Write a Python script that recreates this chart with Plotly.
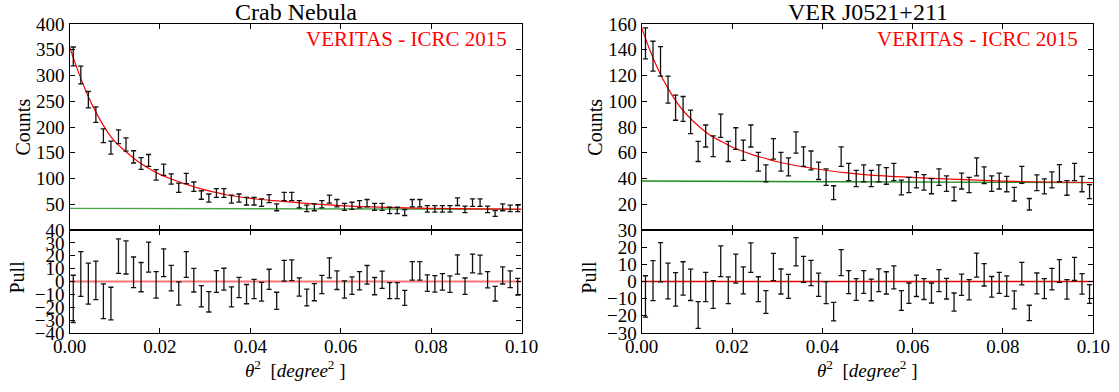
import numpy as np
import plotly.graph_objects as go

W, H = 1119, 392
FONT = "Liberation Serif, Times New Roman, serif"

# ---------------- data ----------------
N_BINS = 60
BIN_WIDTH = 0.1 / N_BINS
theta2 = (np.arange(N_BINS) + 0.5) * BIN_WIDTH  # bin centres

crab_counts = [337, 301, 253, 224, 183, 160, 181, 166, 142, 129,
               135, 107, 117, 99, 82, 100, 84, 68, 62, 72,
               72, 60, 62, 56, 56, 53, 61, 44, 65, 65,
               50, 42, 44, 50, 60, 52, 45, 47, 50, 52,
               45, 45, 38, 38, 34, 52, 52, 41, 41, 41,
               41, 55, 40, 53, 53, 40, 32, 44, 42, 42]
crab_pull = [-13.5, 5.8, -1.7, 0.9, -15.3, -17.1, 19.7, 18.7, 7.1, 3.4,
             18.9, -2.6, 14.6, 2.6, -9.3, 13.2, 1.0, -11.4, -15.8, 0.0,
             1.8, -11.9, -4.7, -9.8, -5.8, -8.0, 1.7, -15.0, 8.4, 8.7,
             -4.3, -12.4, -8.3, -2.3, 10.6, 1.0, -6.2, -3.2, 0.6, 5.2,
             -3.6, 1.3, -7.1, -7.1, -12.7, 8.3, 8.3, -1.3, -1.8, -0.3,
             -2.1, 13.2, -3.6, 14.0, 13.2, 1.3, -9.5, 4.7, 1.8, -4.1]
crab_fit_x = [0, 0.002, 0.004, 0.006, 0.008, 0.010, 0.0125, 0.015, 0.0175, 0.020,
              0.0225, 0.025, 0.0275, 0.030, 0.035, 0.040, 0.045, 0.050, 0.060,
              0.070, 0.080, 0.090, 0.100]
crab_fit_y = [356, 306, 262, 226, 196, 172, 152, 134, 120, 108,
              99, 91, 84, 78, 68, 61.5, 57, 53.5, 47.5,
              44, 42, 41, 40.5]
crab_bkg_x = [0.0, 0.1]
crab_bkg_y = [42.0, 40.2]

ver_counts = [145, 135, 131, 109, 95, 94, 84, 61, 73, 65,
              81, 61, 71, 62, 73, 53, 44, 63, 53, 49,
              68, 57, 54, 46, 41, 29, 57, 45, 40, 44,
              40, 44, 42, 45, 33, 35, 39, 37, 34, 41,
              36, 28, 38, 35, 49, 42.5, 36, 38, 35.7, 27.8,
              42.8, 20, 36.7, 33.9, 38.9, 44.1, 32.7, 45.1, 35.7, 29.8]
ver_pull = [-8.7, 0.5, 11.2, 0.3, -4.6, 1.8, -1.9, -19.5, -3.2, -7.6,
            11.8, -5.1, 7.5, 0.7, 13.9, -4.5, -11.9, 8.5, 0.0, -2.8,
            17.3, 7.1, 5.0, -1.9, -6.5, -17.6, 11.0, -0.4, -4.7, -0.3,
            -4.9, 0.7, -0.8, 2.4, -11.1, -6.8, -2.5, -4.4, -6.7, 0.5,
            -4.2, -12.0, -1.9, -4.8, 9.5, 3.9, -3.1, -0.8, -2.7, -10.7,
            4.6, -18.3, -1.1, -4.2, 1.4, 6.1, -4.6, 7.3, -1.4, -7.3]
ver_fit_x = [0, 0.002, 0.004, 0.006, 0.008, 0.010, 0.0125, 0.015, 0.0175, 0.020,
             0.0225, 0.025, 0.0275, 0.030, 0.035, 0.040, 0.045, 0.050, 0.060,
             0.070, 0.080, 0.090, 0.100]
ver_fit_y = [157, 138, 122, 109, 98, 89.5, 81, 74, 69, 64.5,
             61, 58, 55.5, 53, 49.5, 46.8, 44.5, 42.8, 40.8,
             39.3, 38.0, 37.3, 36.9]
ver_bkg_x = [0.0, 0.1]
ver_bkg_y = [38.0, 36.8]

x_ticks = [0.0, 0.02, 0.04, 0.06, 0.08, 0.10]
x_ticktext = ["0.00", "0.02", "0.04", "0.06", "0.08", "0.10"]
crab_yticks = [0, 50, 100, 150, 200, 250, 300, 350, 400]
ver_yticks = [0, 20, 40, 60, 80, 100, 120, 140, 160]
crab_pull_ticks = [-40, -30, -20, -10, 0, 10, 20, 30, 40]
ver_pull_ticks = [-30, -20, -10, 0, 10, 20, 30]

titles = ["Crab Nebula", "VER J0521+211"]
tag = "VERITAS - ICRC 2015"

# ---------------- geometry (pixels) ----------------
XL = (69.5, 521.5)
XR = (641.7, 1093.3)
Y_TOP, Y_MID, Y_BOT = 24, 230, 333


def dx(a, b):
    return [a / W, b / W]


def dy(top, bot):
    return [1 - bot / H, 1 - top / H]


def lab(v):
    if v < 0:
        return "\u2212" + str(-v)
    return str(v)


fig = go.Figure()

err_style = dict(type="data", visible=True, color="#111111", thickness=1.3, width=2.6)
nomark = dict(size=1, color="rgba(0,0,0,0)")

panels = [
    (crab_counts, crab_pull, crab_fit_x, crab_fit_y, crab_bkg_x, crab_bkg_y,
     "rgb(70,165,70)", "rgba(255,40,40,0.65)", 2.2),
    (ver_counts, ver_pull, ver_fit_x, ver_fit_y, ver_bkg_x, ver_bkg_y,
     "rgb(30,140,30)", "rgb(235,0,0)", 1.6),
]

for i, (cnt, pull, fx, fy, bx, by, gcol, pcol, pw) in enumerate(panels):
    xt = "x" + ("" if i == 0 else str(2 * i + 1))
    yt = "y" + ("" if i == 0 else str(2 * i + 1))
    xb = "x" + str(2 * i + 2)
    yb = "y" + str(2 * i + 2)
    cnt = np.array(cnt, dtype=float)
    err = np.sqrt(cnt)
    fig.add_trace(go.Scatter(x=bx, y=by, mode="lines", line=dict(color=gcol, width=1.4),
                             xaxis=xt, yaxis=yt, showlegend=False))
    fig.add_trace(go.Scatter(x=fx, y=fy, mode="lines", line=dict(color="red", width=1.2, shape="spline"),
                             xaxis=xt, yaxis=yt, showlegend=False))
    fig.add_trace(go.Scatter(x=theta2, y=cnt, mode="markers", marker=nomark,
                             error_y=dict(array=err, **err_style),
                             xaxis=xt, yaxis=yt, showlegend=False, cliponaxis=False))
    fig.add_trace(go.Scatter(x=[0, 0.1], y=[0, 0], mode="lines", line=dict(color=pcol, width=pw),
                             xaxis=xb, yaxis=yb, showlegend=False))
    fig.add_trace(go.Scatter(x=theta2, y=pull, mode="markers", marker=nomark,
                             error_y=dict(array=err, **err_style),
                             xaxis=xb, yaxis=yb, showlegend=False, cliponaxis=False))

axis_common = dict(showline=True, linecolor="black", linewidth=1.3, mirror="ticks",
                   ticks="inside", ticklen=5, tickwidth=1.1, tickcolor="black",
                   showgrid=False, zeroline=False, automargin=False,
                   tickfont=dict(family=FONT, size=19, color="black"))

layout = dict(width=W, height=H, margin=dict(l=0, r=0, t=0, b=0, pad=0, autoexpand=False),
              autosize=False, template="none",
              paper_bgcolor="white", plot_bgcolor="white", showlegend=False,
              font=dict(family=FONT, color="black"))

for i, (xr, yticks, ymax, pticks, pmax) in enumerate([
        (XL, crab_yticks, 400, crab_pull_ticks, 40),
        (XR, ver_yticks, 160, ver_pull_ticks, 30)]):
    kt = "" if i == 0 else str(2 * i + 1)
    kb = str(2 * i + 2)
    layout["xaxis" + kt] = dict(axis_common, domain=dx(*xr), range=[0, 0.1], anchor="y" + kt,
                                tickvals=x_ticks, showticklabels=False)
    layout["yaxis" + kt] = dict(axis_common, domain=dy(Y_TOP, Y_MID), range=[0, ymax], anchor="x" + kt,
                                tickvals=yticks, ticktext=[""] + [str(v) for v in yticks[1:]])
    layout["xaxis" + kb] = dict(axis_common, domain=dx(*xr), range=[0, 0.1], anchor="y" + kb,
                                tickvals=x_ticks, ticktext=x_ticktext, ticklabelstandoff=-4)
    layout["yaxis" + kb] = dict(axis_common, domain=dy(Y_MID, Y_BOT), range=[-pmax, pmax], anchor="x" + kb,
                                tickvals=pticks, ticktext=[lab(v) for v in pticks])

fig.update_layout(**layout)


def ann(text, px, py, size, color="black", xanchor="center", angle=0):
    fig.add_annotation(text=text, x=px / W, y=1 - py / H, xref="paper", yref="paper",
                       showarrow=False, xanchor=xanchor, yanchor="middle", textangle=angle,
                       font=dict(family=FONT, size=size, color=color))


for i, xr in enumerate([XL, XR]):
    cx = (xr[0] + xr[1]) / 2
    ann(titles[i], cx, 12, 24)
    ann(tag, xr[1] - 13, 39, 21, color="red", xanchor="right")
    ann("<i>θ</i><sup>2</sup>  [<i>degree</i><sup>2</sup> ]", cx, 369, 19)
    ann("Counts", xr[0] - 47, 127, 20, angle=-90)
    ann("Pull", xr[0] - 53, 277, 20, angle=-90)

fig.write_html("out.html")
